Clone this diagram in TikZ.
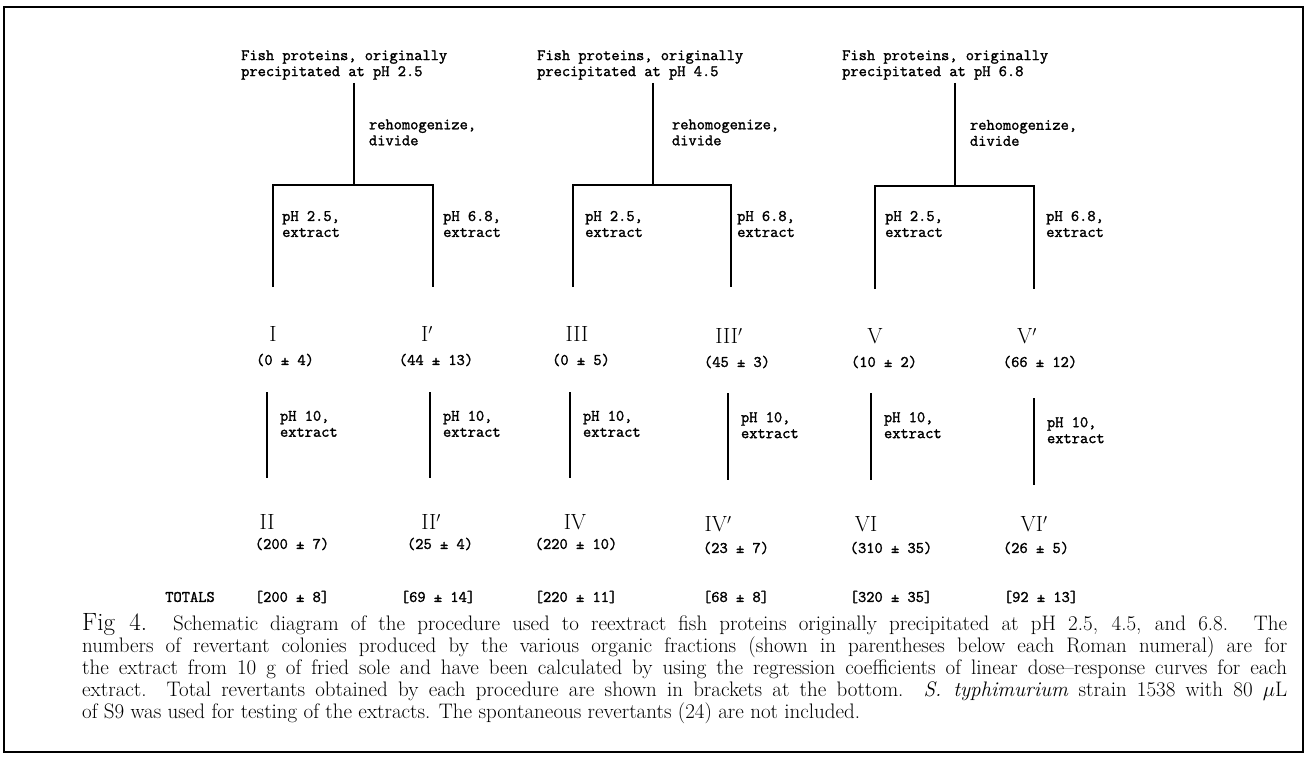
\documentclass[tikz,border=0pt]{standalone}
\usepackage{amsmath}
\usepackage{fontspec}
\usepackage{tikz}

\newfontfamily\twfont{Latin Modern Mono}[FakeBold=1.6]

\begin{document}
\begin{tikzpicture}[x=1pt,y=-1pt,
	tw/.style={font=\fontsize{16}{16}\selectfont\twfont\bfseries, inner sep=0pt, align=left},
	num/.style={font=\fontsize{22}{22}\selectfont, inner sep=0pt},
	val/.style={font=\fontsize{16}{16}\selectfont\twfont\bfseries, inner sep=0pt},
	ln/.style={line width=2pt}]
			\useasboundingbox (0,0) rectangle (1315,757);
			\draw[line width=2.5pt] (4,7) rectangle (1303,752);
			% first procedure, pH 2.5
			\node[tw, anchor=west] (src1) at (241,65) {Fish proteins, originally\\precipitated at pH 2.5};
			\coordinate (sp1) at (354,185);
			\coordinate (e1) at (273,287);
			\coordinate (e2) at (433,287);
			\draw[ln, shorten <=3pt] (sp1 |- src1.south) -- node[tw, anchor=west, xshift=14pt] (rh1) {rehomogenize,\\divide} (sp1);
			\draw[ln] (e1) |- (sp1) -| (e2);
			\node[tw, anchor=west] (ex1) at (282,224) {pH 2.5,\\extract};
			\node[tw, anchor=west] (ex2) at (443,224) {pH 6.8,\\extract};
			% second procedure, pH 4.5
			\node[tw, anchor=west] (src2) at (537,65) {Fish proteins, originally\\precipitated at pH 4.5};
			\coordinate (sp2) at (653,185);
			\coordinate (e3) at (573,287);
			\coordinate (e4) at (731,287);
			\draw[ln, shorten <=3pt] (sp2 |- src2.south) -- node[tw, anchor=west, xshift=18pt] (rh2) {rehomogenize,\\divide} (sp2);
			\draw[ln] (e3) |- (sp2) -| (e4);
			\node[tw, anchor=west] (ex3) at (585,224) {pH 2.5,\\extract};
			\node[tw, anchor=west] (ex4) at (737,224) {pH 6.8,\\extract};
			% third procedure, pH 6.8
			\node[tw, anchor=west] (src3) at (842,65) {Fish proteins, originally\\precipitated at pH 6.8};
			\coordinate (sp3) at (955,186);
			\coordinate (e5) at (875,289);
			\coordinate (e6) at (1034,289);
			\draw[ln, shorten <=3pt] (sp3 |- src3.south) -- node[tw, anchor=west, xshift=14pt] (rh3) {rehomogenize,\\divide} (sp3);
			\draw[ln] (e5) |- (sp3) -| (e6);
			\node[tw, anchor=west] (ex5) at (885,224) {pH 2.5,\\extract};
			\node[tw, anchor=west] (ex6) at (1046,224) {pH 6.8,\\extract};
			% first fractions
			\node[num] (f1) at (273,334) {I};
			\node[val] (v1) at (285,360) {(0 ± 4)};
			\node[num] (f2) at (427,334) {I$'$};
			\node[val] (v2) at (436,360) {(44 ± 13)};
			\node[num] (f3) at (577,334) {III};
			\node[val] (v3) at (581,360) {(0 ± 5)};
			\node[num] (f4) at (729,336) {III$'$};
			\node[val] (v4) at (737,362) {(45 ± 3)};
			\node[num] (f5) at (875,336) {V};
			\node[val] (v5) at (884,362) {(10 ± 2)};
			\node[num] (f6) at (1027,336) {V$'$};
			\node[val] (v6) at (1040,362) {(66 ± 12)};
			% pH 10 extraction
			\coordinate (p1) at (267,392);
			\coordinate (q1) at (267,478);
			\coordinate (p2) at (430,392);
			\coordinate (q2) at (430,478);
			\coordinate (p3) at (570,392);
			\coordinate (q3) at (570,478);
			\coordinate (p4) at (728,393);
			\coordinate (q4) at (728,480);
			\coordinate (p5) at (871,393);
			\coordinate (q5) at (871,480);
			\coordinate (p6) at (1034,398);
			\coordinate (q6) at (1034,485);
			\draw[ln] (p1) -- node[tw, pos=.37, anchor=west, xshift=12pt] (x1) {pH 10,\\extract} (q1);
			\draw[ln] (p2) -- node[tw, pos=.37, anchor=west, xshift=12pt] (x2) {pH 10,\\extract} (q2);
			\draw[ln] (p3) -- node[tw, pos=.37, anchor=west, xshift=12pt] (x3) {pH 10,\\extract} (q3);
			\draw[ln] (p4) -- node[tw, pos=.37, anchor=west, xshift=12pt] (x4) {pH 10,\\extract} (q4);
			\draw[ln] (p5) -- node[tw, pos=.37, anchor=west, xshift=12pt] (x5) {pH 10,\\extract} (q5);
			\draw[ln] (p6) -- node[tw, pos=.37, anchor=west, xshift=12pt] (x6) {pH 10,\\extract} (q6);
			% second fractions
			\node[num] (g1) at (267,522) {II};
			\node[val] (w1) at (292,544) {(200 ± 7)};
			\node[num] (g2) at (431,522) {II$'$};
			\node[val] (w2) at (440,544) {(25 ± 4)};
			\node[num] (g3) at (575,522) {IV};
			\node[val] (w3) at (576,544) {(220 ± 10)};
			\node[num] (g4) at (718,524) {IV$'$};
			\node[val] (w4) at (736,548) {(23 ± 7)};
			\node[num] (g5) at (866,524) {VI};
			\node[val] (w5) at (891,548) {(310 ± 35)};
			\node[num] (g6) at (1034,524) {VI$'$};
			\node[val] (w6) at (1036,548) {(26 ± 5)};
			% totals
			\node[val] (tot) at (190,597) {TOTALS};
			\node[val] (t1) at (292,597) {[200 ± 8]};
			\node[val] (t2) at (438,597) {[69 ± 14]};
			\node[val] (t3) at (576,597) {[220 ± 11]};
			\node[val] (t4) at (736,597) {[68 ± 8]};
			\node[val] (t5) at (891,597) {[320 ± 35]};
			\node[val] (t6) at (1041,597) {[92 ± 13]};
			% caption
			\node[anchor=north west, inner sep=0pt, text width=1205pt, align=justify, font=\fontsize{21}{22}\selectfont] (cap) at (82,613) {{\fontsize{25}{22}\selectfont Fig 4.} Schematic diagram of the procedure used to reextract fish proteins originally precipitated at pH 2.5, 4.5, and 6.8. The\linebreak numbers of revertant colonies produced by the various organic fractions (shown in parentheses below each Roman numeral) are for\linebreak the extract from 10 g of fried sole and have been calculated by using the regression coefficients of linear dose--response curves for each\linebreak extract. Total revertants obtained by each procedure are shown in brackets at the bottom. \textit{S.\ typhimurium} strain 1538 with 80 $\mu$L\linebreak of S9 was used for testing of the extracts. The spontaneous revertants (24) are not included.};
		\end{tikzpicture}
\end{document}
